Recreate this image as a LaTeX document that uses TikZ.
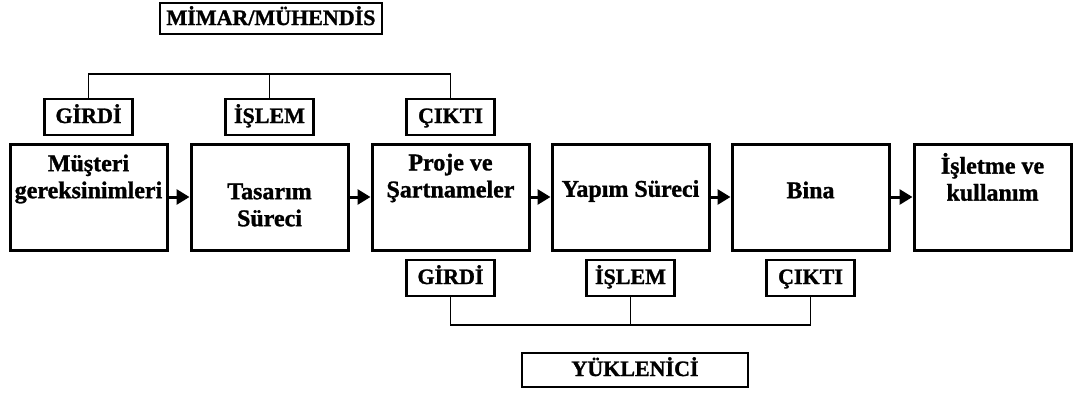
\documentclass[tikz,border=0pt]{standalone}
\usepackage{fontspec}
\setmainfont{Liberation Serif}[BoldFeatures={FakeBold=1.2}]
\usepackage{tikz}
\usetikzlibrary{arrows.meta, positioning}
\newcommand{\stepfont}{\fontsize{24}{27}\selectfont\bfseries}
\newcommand{\tagfont}{\fontsize{22}{24}\selectfont\bfseries}

\begin{document}
\begin{tikzpicture}[
    x=1pt, y=1pt,
    stage/.style={rectangle, draw=black, line width=3pt,
                  minimum width=157pt, minimum height=106pt,
                  inner sep=0pt},
    stagetext/.style={font=\stepfont, align=center, inner sep=0pt},
    tag/.style={rectangle, draw=black, line width=2.6pt,
                minimum width=88pt, minimum height=36pt,
                text height=16pt, text depth=4pt,
                inner sep=4pt, font=\tagfont},
    party/.style={rectangle, draw=black, line width=2pt,
                  text height=16pt, text depth=3pt,
                  inner sep=2pt, font=\tagfont},
    link/.style={line width=1.1pt, black},
    arr/.style={-{Triangle[length=13pt, width=15pt]}, line width=3pt},
]
\useasboundingbox (0,0) rectangle (1074,-394);

% stages
\node[stage, label={[stagetext, yshift=18pt]center:Müşteri\\gereksinimleri}]
    (musteri) at (88.5,-197) {};
\node[stage, label={[stagetext, yshift=-8pt]center:Tasarım\\Süreci}]
    (tasarim) at (269.5,-197) {};
\node[stage, label={[stagetext, yshift=19pt]center:Proje ve\\Şartnameler}]
    (proje) at (450.5,-197) {};
\node[stage, label={[stagetext, yshift=6pt]center:Yapım Süreci}]
    (yapim) at (630.5,-197) {};
\node[stage, label={[stagetext, yshift=7pt]center:Bina}]
    (bina) at (810.5,-197) {};
\node[stage, label={[stagetext, yshift=20pt]center:İşletme ve\\kullanım}]
    (isletme) at (992.5,-197) {};

\draw[arr] (musteri) -- (tasarim);
\draw[arr] (tasarim) -- (proje);
\draw[arr] (proje) -- (yapim);
\draw[arr] (yapim) -- (bina);
\draw[arr] (bina) -- (isletme);

% mimar / muhendis side
\node[party, minimum width=222pt, minimum height=31pt] (mimar) at (271,-18.5)
    {MİMAR/MÜHENDİS};
\node[tag] (mGirdi) at (88.5,-117) {GİRDİ};
\node[tag] (mIslem) at (269.5,-117) {İŞLEM};
\node[tag] (mCikti) at (450.5,-117) {ÇIKTI};
\coordinate (mbar) at (270,-74);
\draw[link] (mGirdi.north) |- (mbar) -| (mCikti.north);
\draw[link] (mIslem.north) -- (mIslem.north |- mbar);

% yuklenici side
\node[tag] (yGirdi) at (450.5,-278) {GİRDİ};
\node[tag] (yIslem) at (630.5,-278) {İŞLEM};
\node[tag] (yCikti) at (810.5,-278) {ÇIKTI};
\coordinate (ybar) at (631,-325);
\draw[link] (yGirdi.south) |- (ybar) -| (yCikti.south);
\draw[link] (yIslem.south) -- (yIslem.south |- ybar);
\node[party, minimum width=226pt, minimum height=34pt] (yuklenici) at (635,-369.5)
    {YÜKLENİCİ};

\end{tikzpicture}
\end{document}
